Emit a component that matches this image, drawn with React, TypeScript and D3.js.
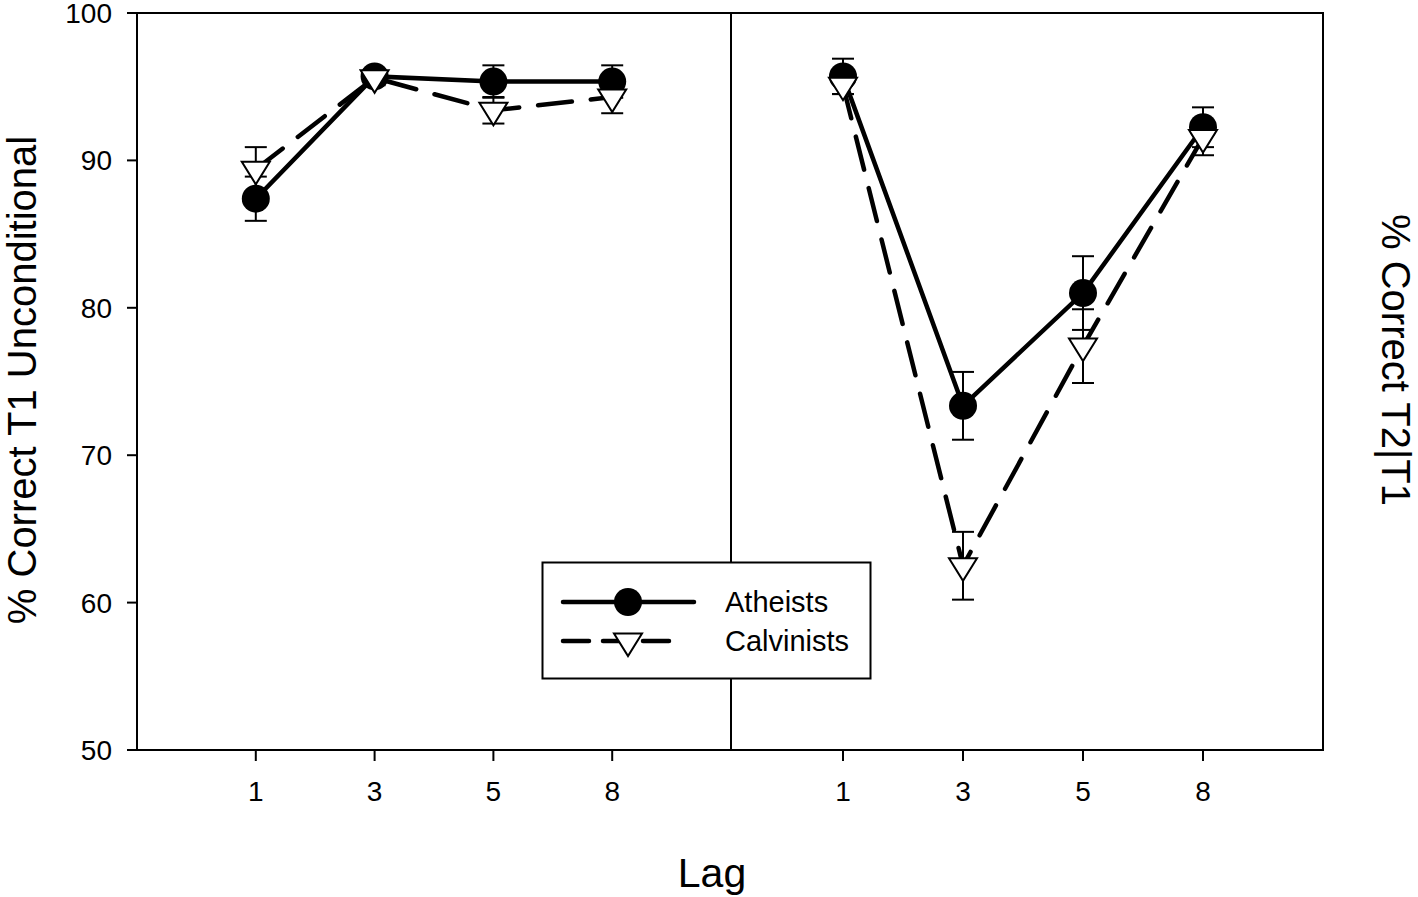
import * as d3 from "d3";

// lag conditions shown on both panels
const lags = ["1", "3", "5", "8"];
const yTicks = [50, 60, 70, 80, 90, 100];

// left panel: % correct T1 unconditional
const t1Atheists = [87.4, 95.7, 95.35, 95.35];
const t1AtheistsErr = [1.5, 0.5, 1.1, 1.1];
const t1Calvinists = [89.4, 95.6, 93.4, 94.3];
const t1CalvinistsErr = [1.5, 0.5, 0.9, 1.1];

// right panel: % correct T2|T1
const t2Atheists = [95.7, 73.35, 81.0, 92.25];
const t2AtheistsErr = [1.2, 2.3, 2.5, 1.35];
const t2Calvinists = [95.1, 62.5, 77.4, 91.55];
const t2CalvinistsErr = [0.6, 2.3, 2.5, 1.2];

const W = 1418;
const H = 897;
const plot = { left: 137, right: 1323, top: 13, bottom: 750, mid: 731 };
const font = "Arial, 'Liberation Sans', sans-serif";

const y = d3.scaleLinear().domain([50, 100]).range([plot.bottom, plot.top]);
const xLeft = d3.scaleLinear().domain([0, 5]).range([plot.left, plot.mid]);
const xRight = d3.scaleLinear().domain([0, 5]).range([723, plot.right]);

const triangle = (cx: number, cy: number) =>
  `M${cx - 14},${cy - 7.5}L${cx + 14},${cy - 7.5}L${cx},${cy + 15}Z`;

type Series = { values: number[]; err: number[]; kind: "circle" | "tri" };

const Panel = ({ x, series }: { x: d3.ScaleLinear<number, number>; series: Series[] }) => {
  const line = d3
    .line<number>()
    .x((_, i) => x(i + 1))
    .y((d) => y(d));
  return (
    <g>
      {series.map((s, si) => (
        <g key={si}>
          <path
            d={line(s.values)!}
            fill="none"
            stroke="#000"
            strokeWidth={4.5}
            strokeLinecap="round"
            strokeDasharray={s.kind === "tri" ? "34 19" : undefined}
          />
          {s.values.map((v, i) => {
            const cx = x(i + 1);
            const top = y(v + s.err[i]);
            const bot = y(v - s.err[i]);
            return (
              <g key={i} stroke="#000" strokeWidth={2}>
                <line x1={cx} x2={cx} y1={top} y2={bot} />
                <line x1={cx - 11} x2={cx + 11} y1={top} y2={top} />
                <line x1={cx - 11} x2={cx + 11} y1={bot} y2={bot} />
              </g>
            );
          })}
          {s.values.map((v, i) =>
            s.kind === "circle" ? (
              <circle key={i} cx={x(i + 1)} cy={y(v)} r={14} fill="#000" />
            ) : (
              <path key={i} d={triangle(x(i + 1), y(v))} fill="#fff" stroke="#000" strokeWidth={2} />
            )
          )}
        </g>
      ))}
      {lags.map((l, i) => (
        <g key={l}>
          <line x1={x(i + 1)} x2={x(i + 1)} y1={plot.bottom} y2={plot.bottom + 11} stroke="#000" strokeWidth={2} />
          <text x={x(i + 1)} y={801} textAnchor="middle" fontSize={28} fontFamily={font}>
            {l}
          </text>
        </g>
      ))}
    </g>
  );
};

export default function App() {
  return (
    <svg
      width={W}
      height={H}
      style={{ position: "absolute", left: 0, top: 0, background: "#fff" }}
    >
      <rect x={0} y={0} width={W} height={H} fill="#fff" />
      <Panel
        x={xLeft}
        series={[
          { values: t1Atheists, err: t1AtheistsErr, kind: "circle" },
          { values: t1Calvinists, err: t1CalvinistsErr, kind: "tri" },
        ]}
      />
      <Panel
        x={xRight}
        series={[
          { values: t2Atheists, err: t2AtheistsErr, kind: "circle" },
          { values: t2Calvinists, err: t2CalvinistsErr, kind: "tri" },
        ]}
      />

      {/* frame and divider */}
      <rect
        x={plot.left}
        y={plot.top}
        width={plot.right - plot.left}
        height={plot.bottom - plot.top}
        fill="none"
        stroke="#000"
        strokeWidth={2}
      />
      <line x1={plot.mid} x2={plot.mid} y1={plot.top} y2={plot.bottom} stroke="#000" strokeWidth={2} />

      {/* y axis */}
      {yTicks.map((t) => (
        <g key={t}>
          <line x1={plot.left - 10} x2={plot.left} y1={y(t)} y2={y(t)} stroke="#000" strokeWidth={2} />
          <text x={112} y={y(t) + 10} textAnchor="end" fontSize={28} fontFamily={font}>
            {t}
          </text>
        </g>
      ))}

      <text
        transform="translate(36,380) rotate(-90)"
        textAnchor="middle"
        fontSize={40}
        fontFamily={font}
      >
        % Correct T1 Unconditional
      </text>
      <text
        transform="translate(1382,360) rotate(90)"
        textAnchor="middle"
        fontSize={40}
        fontFamily={font}
      >
        % Correct T2|T1
      </text>
      <text x={712} y={887} textAnchor="middle" fontSize={41} fontFamily={font}>
        Lag
      </text>

      {/* legend */}
      <g>
        <rect x={542.5} y={562.5} width={328} height={116} fill="#fff" stroke="#000" strokeWidth={2} />
        <line x1={563} x2={694} y1={602} y2={602} stroke="#000" strokeWidth={4.5} strokeLinecap="round" />
        <circle cx={628} cy={602} r={14} fill="#000" />
        <line
          x1={563}
          x2={680}
          y1={641}
          y2={641}
          stroke="#000"
          strokeWidth={4.5}
          strokeLinecap="round"
          strokeDasharray="26 14"
        />
        <path d={triangle(628, 641)} fill="#fff" stroke="#000" strokeWidth={2} />
        <text x={725} y={612} fontSize={29} fontFamily={font}>
          Atheists
        </text>
        <text x={725} y={651} fontSize={29} fontFamily={font}>
          Calvinists
        </text>
      </g>
    </svg>
  );
}
